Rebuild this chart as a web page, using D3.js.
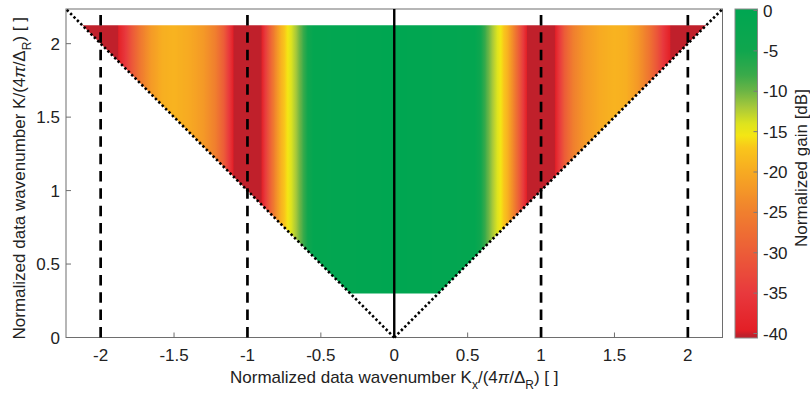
<!DOCTYPE html>
<html>
<head>
<meta charset="utf-8">
<script src="https://cdn.jsdelivr.net/npm/d3@7"></script>
<style>
  html, body { margin: 0; padding: 0; background: #fff; }
  svg { display: block; font-family: "Liberation Sans", Arial, Helvetica, sans-serif; }
</style>
</head>
<body>
<svg id="chart" width="810" height="394"></svg>
<script>
// Normalized gain profile across Kx (symmetric about Kx = 0): |Kx| -> gain [dB]
const kxAbs  = [0, 0.55, 0.59, 0.63, 0.67, 0.71, 0.74, 0.77, 0.81, 0.85, 0.88, 0.90, 0.915,
                1.085, 1.10, 1.125, 1.16, 1.22, 1.30, 1.40, 1.50, 1.58, 1.66, 1.73, 1.79, 1.84, 1.875, 1.895, 2.2];
const gainDb = [0, -1, -5, -9, -12, -14.5, -16.5, -19, -24, -30, -35, -39, -42,
                -42, -39, -35, -30, -25, -22, -20, -19, -19.5, -22, -26, -31, -36, -39, -42, -42];

// K range covered by the data (lower cut-off and upper limit)
const kMin = 0.3;
const kMax = 2.125;

// Axis extent and ticks
const axisMax = 2.236;
const xTicks = [-2, -1.5, -1, -0.5, 0, 0.5, 1, 1.5, 2];
const yTicks = [0, 0.5, 1, 1.5, 2];
const markerKx = [-2, -1, 1, 2];

// Colormap anchors (gain in dB) and colorbar ticks
const cmapDb     = [-45, -40.2, -39.6, -35, -30, -25, -20, -17, -15.5, -14, -12, -10, -8, -5, 0];
const cmapColors = ["#c0202b", "#c0202b", "#e31f26", "#e8393d", "#ec5c38", "#f07f2e", "#f7aa22",
                    "#f9c61b", "#f4e614", "#dde31e", "#a8c93a", "#6cb545", "#3aaa4a", "#10a64e", "#00a651"];
const cbTicks = [0, -5, -10, -15, -20, -25, -30, -35, -40];

const svg = d3.select("#chart");
const defs = svg.append("defs");

const plot = { left: 66, right: 722.5, top: 9, bottom: 337.5 };
const x = d3.scaleLinear().domain([-axisMax, axisMax]).range([plot.left, plot.right]);
const y = d3.scaleLinear().domain([0, axisMax]).range([plot.bottom, plot.top]);

const gainAt = d3.scaleLinear().domain(kxAbs).range(gainDb).clamp(true);
const colour = d3.scaleLinear().domain(cmapDb).range(cmapColors).clamp(true).interpolate(d3.interpolateRgb);

// ---- gain map: colour varies with Kx only, region bounded by |Kx| <= K and kMin <= K <= kMax
const gx1 = x(-kMax), gx2 = x(kMax);
const grad = defs.append("linearGradient")
  .attr("id", "gainGrad")
  .attr("gradientUnits", "userSpaceOnUse")
  .attr("x1", gx1).attr("x2", gx2).attr("y1", 0).attr("y2", 0);
const kSteps = d3.range(-kMax, kMax + 1e-9, 0.004);
grad.selectAll("stop").data(kSteps).join("stop")
  .attr("offset", k => (x(k) - gx1) / (gx2 - gx1))
  .attr("stop-color", k => colour(gainAt(Math.abs(k))));

const region = [[-kMax, kMax], [kMax, kMax], [kMin, kMin], [-kMin, kMin]];
svg.append("path")
  .attr("d", d3.line().x(d => x(d[0])).y(d => y(d[1]))(region) + "Z")
  .attr("fill", "url(#gainGrad)");

// ---- axes box and ticks
const axisCol = "#6e6e6e";
svg.append("rect")
  .attr("x", plot.left).attr("y", plot.top)
  .attr("width", plot.right - plot.left).attr("height", plot.bottom - plot.top)
  .attr("fill", "none").attr("stroke", axisCol).attr("stroke-width", 1);

svg.append("g").selectAll("line").data(xTicks).join("line")
  .attr("x1", d => x(d)).attr("x2", d => x(d))
  .attr("y1", plot.bottom).attr("y2", plot.bottom - 5)
  .attr("stroke", axisCol);
svg.append("g").selectAll("text").data(xTicks).join("text")
  .attr("x", d => x(d)).attr("y", 361)
  .attr("text-anchor", "middle").attr("font-size", 17).attr("fill", "#222")
  .text(d => String(d));

svg.append("g").selectAll("line").data(yTicks).join("line")
  .attr("x1", plot.left).attr("x2", plot.left + 5)
  .attr("y1", d => y(d)).attr("y2", d => y(d))
  .attr("stroke", axisCol);
svg.append("g").selectAll("text").data(yTicks).join("text")
  .attr("x", 60).attr("y", d => y(d)).attr("dy", "0.36em")
  .attr("text-anchor", "end").attr("font-size", 17).attr("fill", "#222")
  .text(d => String(d));

// ---- guide lines
// dotted diagonals |Kx| = K
[-1, 1].forEach(s => {
  svg.append("line")
    .attr("x1", x(0)).attr("y1", y(0))
    .attr("x2", x(s * axisMax)).attr("y2", y(axisMax))
    .attr("stroke", "#000").attr("stroke-width", 2.6)
    .attr("stroke-dasharray", "2.4,2.4");
});
// dashed verticals at integer Kx
svg.append("g").selectAll("line").data(markerKx).join("line")
  .attr("x1", d => x(d)).attr("x2", d => x(d))
  .attr("y1", y(axisMax)).attr("y2", y(0))
  .attr("stroke", "#000").attr("stroke-width", 2.7)
  .attr("stroke-dasharray", "10.5,6.83").attr("stroke-dashoffset", 11.33);
// solid line at Kx = 0
svg.append("line")
  .attr("x1", x(0)).attr("x2", x(0)).attr("y1", y(0)).attr("y2", y(axisMax))
  .attr("stroke", "#000").attr("stroke-width", 2.4);

// ---- axis labels
const xl = svg.append("text")
  .attr("x", x(0)).attr("y", 382.5)
  .attr("text-anchor", "middle").attr("font-size", 17).attr("fill", "#222");
xl.append("tspan").text("Normalized data wavenumber K");
xl.append("tspan").attr("dy", 6).attr("font-size", 12).text("x");
xl.append("tspan").attr("dy", -6).text("/(4");
xl.append("tspan").attr("font-style", "italic").text("π");
xl.append("tspan").text("/Δ");
xl.append("tspan").attr("dy", 6).attr("font-size", 12).text("R");
xl.append("tspan").attr("dy", -6).text(") [ ]");

const yl = svg.append("text")
  .attr("transform", `translate(25,${(plot.top + plot.bottom) / 2 + 5}) rotate(-90)`)
  .attr("text-anchor", "middle").attr("font-size", 17).attr("fill", "#222");
yl.append("tspan").text("Normalized data wavenumber K/(4");
yl.append("tspan").attr("font-style", "italic").text("π");
yl.append("tspan").text("/Δ");
yl.append("tspan").attr("dy", 6).attr("font-size", 12).text("R");
yl.append("tspan").attr("dy", -6).text(") [ ]");

// ---- colorbar
const cb = { left: 735, right: 757.5, top: 9, bottom: 338 };
const cbY = d3.scaleLinear().domain([-40, 0]).range([333.5, 10.5]);
const cgrad = defs.append("linearGradient")
  .attr("id", "cbGrad").attr("gradientUnits", "userSpaceOnUse")
  .attr("x1", 0).attr("x2", 0).attr("y1", cb.top).attr("y2", cb.bottom);
const pys = d3.range(cb.top, cb.bottom + 0.01, 1);
cgrad.selectAll("stop").data(pys).join("stop")
  .attr("offset", p => (p - cb.top) / (cb.bottom - cb.top))
  .attr("stop-color", p => colour(Math.max(-40.4, cbY.invert(p))));
svg.append("rect")
  .attr("x", cb.left).attr("y", cb.top)
  .attr("width", cb.right - cb.left).attr("height", cb.bottom - cb.top)
  .attr("fill", "url(#cbGrad)").attr("stroke", "#8a8a8a").attr("stroke-width", 1);
svg.append("g").selectAll("line").data(cbTicks).join("line")
  .attr("x1", cb.right - 4).attr("x2", cb.right)
  .attr("y1", d => cbY(d)).attr("y2", d => cbY(d))
  .attr("stroke", "#7a7a7a");
svg.append("g").selectAll("text").data(cbTicks).join("text")
  .attr("x", 763).attr("y", d => cbY(d)).attr("dy", "0.36em")
  .attr("font-size", 17).attr("fill", "#222")
  .text(d => String(d));
svg.append("text")
  .attr("transform", `translate(807,168) rotate(-90)`)
  .attr("text-anchor", "middle").attr("font-size", 17).attr("fill", "#222")
  .text("Normalized gain [dB]");
</script>
</body>
</html>
